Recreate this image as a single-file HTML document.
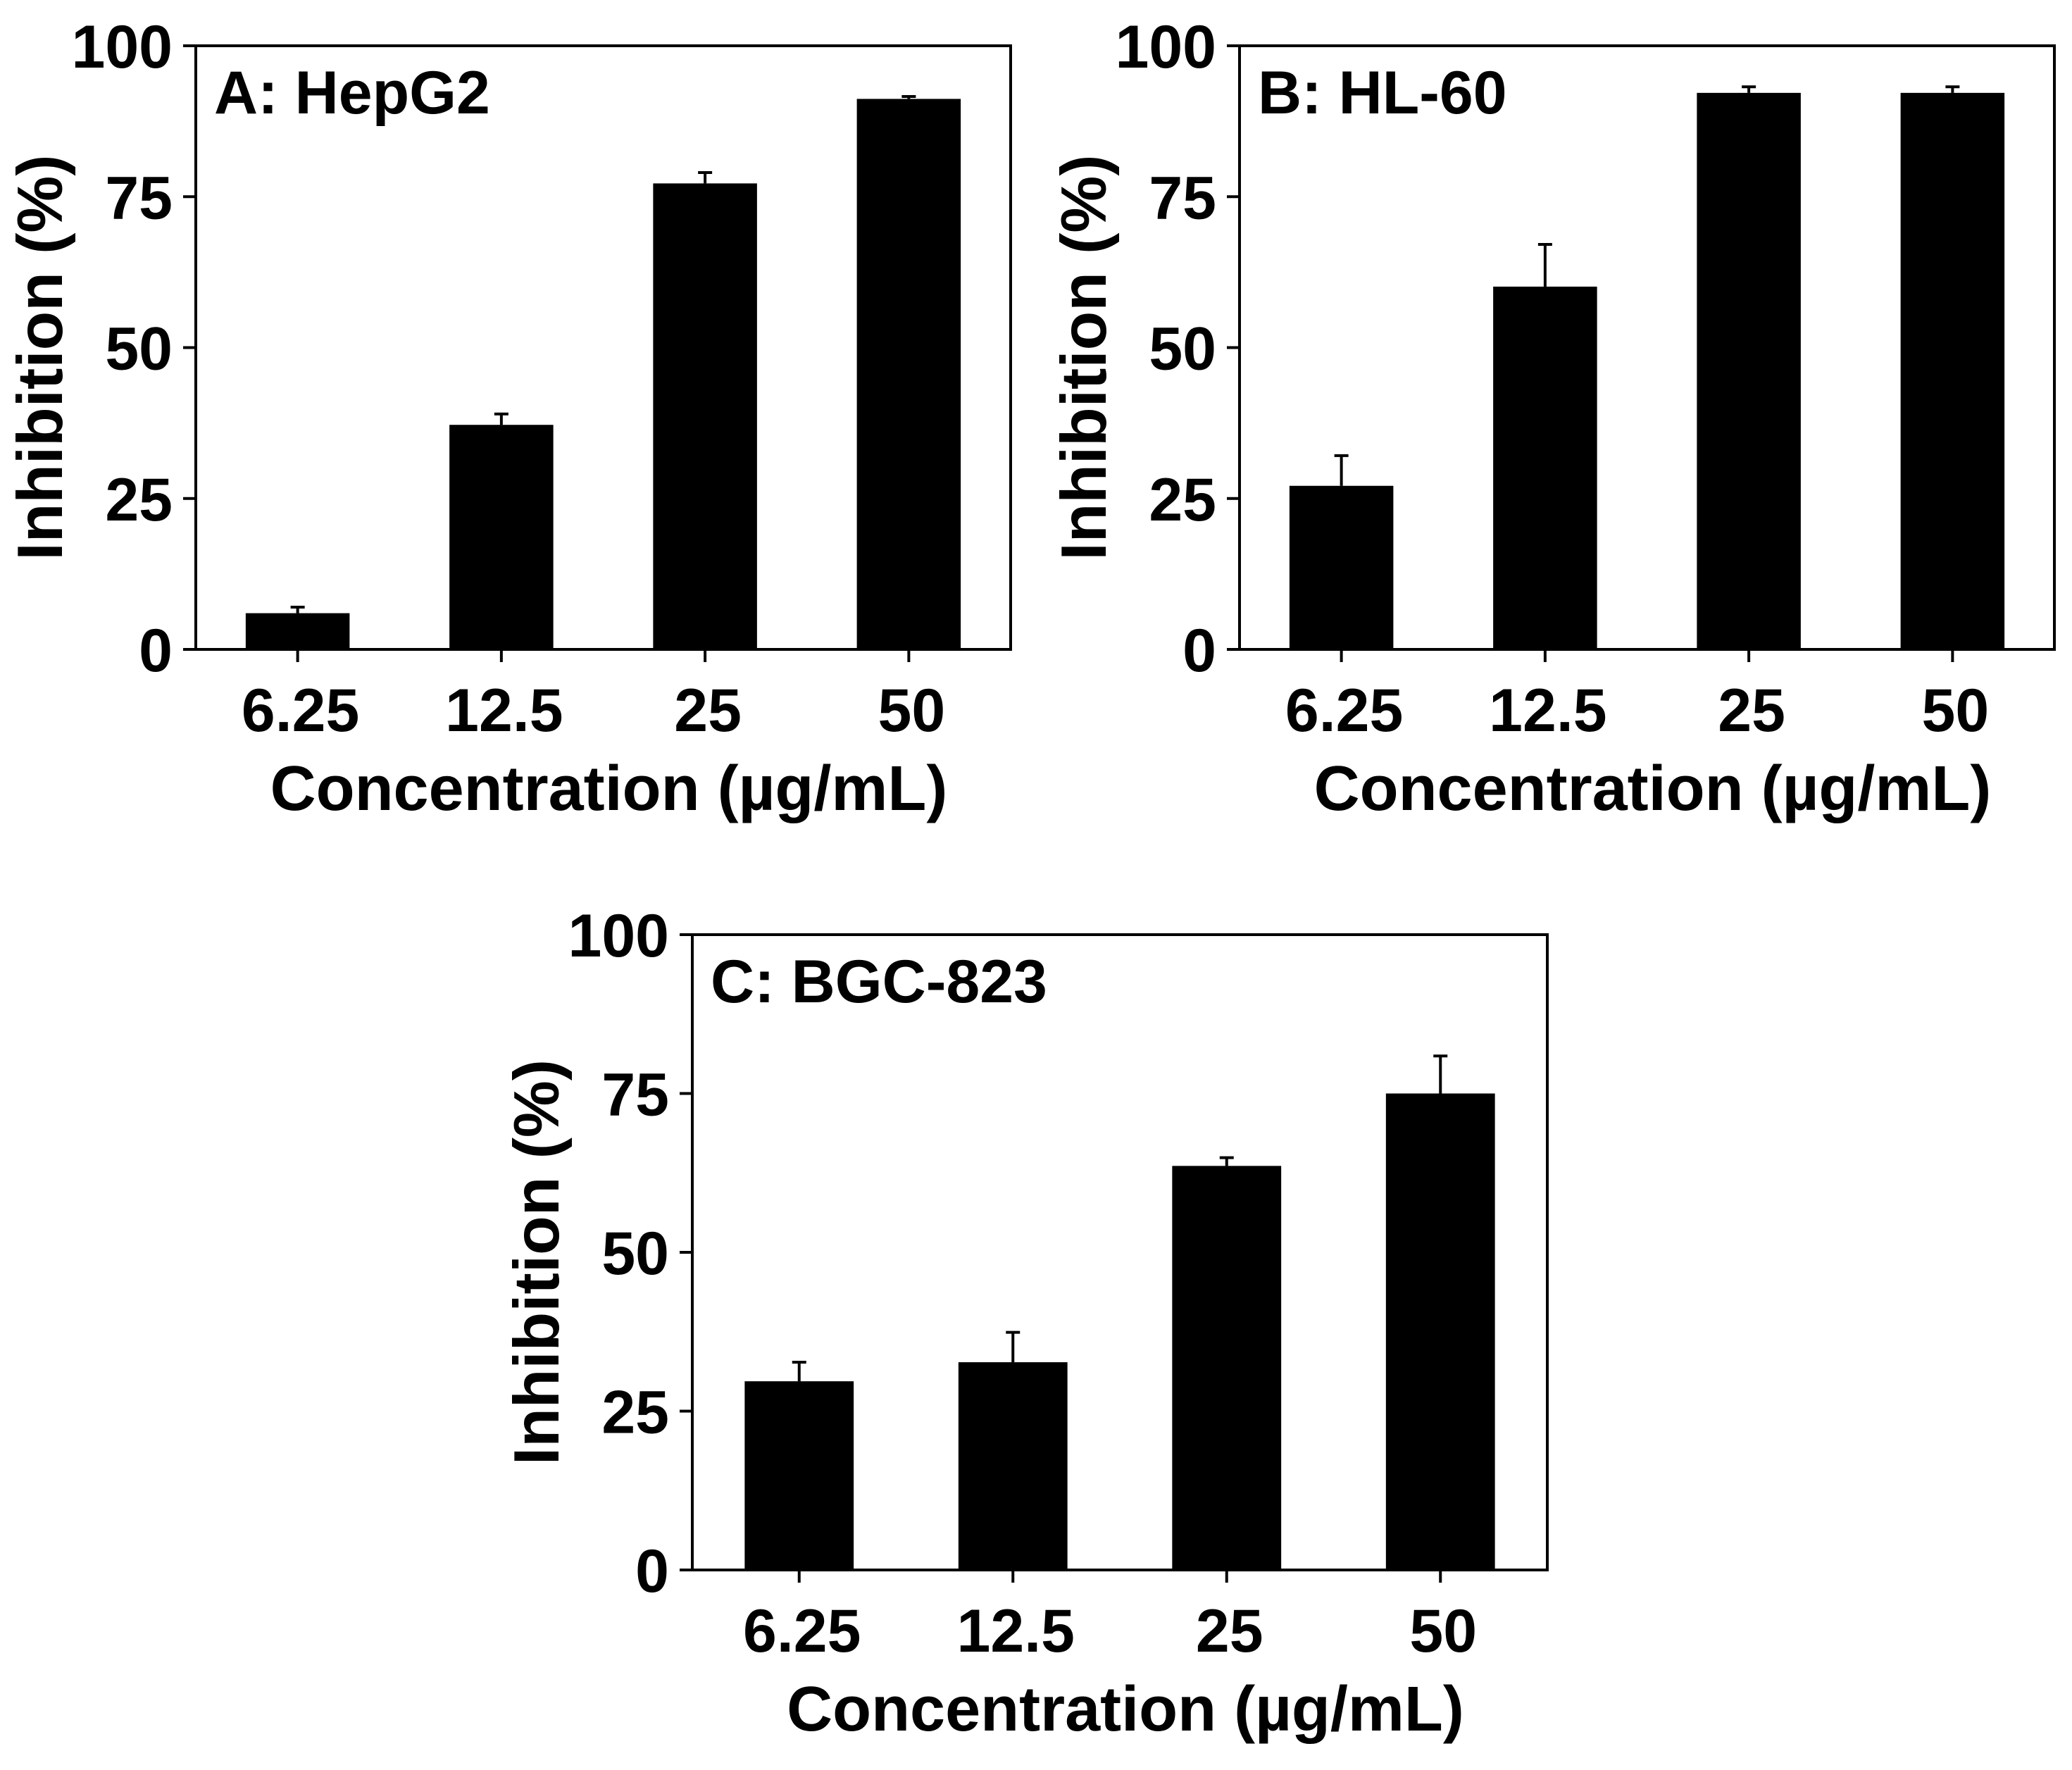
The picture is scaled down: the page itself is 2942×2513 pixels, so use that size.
<!DOCTYPE html>
<html><head><meta charset="utf-8"><style>
html,body{margin:0;padding:0;background:#fff}
svg{display:block}
text{font-family:"Liberation Sans",Arial,sans-serif;font-weight:bold;fill:#000}
</style></head><body>
<svg id="fig" width="2942" height="2513" viewBox="0 0 2942 2513" xmlns="http://www.w3.org/2000/svg"></svg>
<script>
const categories = ["6.25", "12.5", "25", "50"];
const yTicks = [0, 25, 50, 75, 100];
const titles = ["A: HepG2", "B: HL-60", "C: BGC-823"];
const valuesA = [6, 37.2, 77.2, 91.2];
const errorsA = [1, 1.8, 1.8, 0.4];
const valuesB = [27.1, 60.1, 92.2, 92.2];
const errorsB = [5, 7, 1, 1];
const valuesC = [29.7, 32.7, 63.6, 75.0];
const errorsC = [3, 4.7, 1.3, 5.9];

const NS = "http://www.w3.org/2000/svg";
const svg = document.getElementById("fig");
function mk(tag, attrs, parent) {
  const e = document.createElementNS(NS, tag);
  for (const k in attrs) e.setAttribute(k, attrs[k]);
  (parent || svg).appendChild(e);
  return e;
}
const panels = [
  {L: 278, R: 1435, T: 65, B: 922, vals: valuesA, errs: errorsA, title: titles[0], key: "a"},
  {L: 1760, R: 2917, T: 65, B: 922, vals: valuesB, errs: errorsB, title: titles[1], key: "b"},
  {L: 983, R: 2197, T: 1327, B: 2229, vals: valuesC, errs: errorsC, title: titles[2], key: "c"}
];
panels.forEach(p => {
  const g = mk("g", {});
  
  
  const yScale = v => p.B - (v / 100) * (p.B - p.T);
  const slot = (p.R - p.L) / categories.length;
  const xScale = i => p.L + slot * (i + 0.5);
  const bw = slot * 0.51;
  p.vals.forEach((v, i) => {
    const r = mk("rect", {x: xScale(i) - bw / 2, y: yScale(v), width: bw, height: p.B - yScale(v), fill: "#000"}, g);
    
    
    const top = yScale(v + p.errs[i]);
    const eb = mk("path", {d: `M${xScale(i)},${yScale(v)}V${top}M${xScale(i) - 10},${top}H${xScale(i) + 10}`, stroke: "#000", "stroke-width": 4, fill: "none"}, g);
    
    
  });
  const fr = mk("rect", {x: p.L, y: p.T, width: p.R - p.L, height: p.B - p.T, fill: "none", stroke: "#000", "stroke-width": 4}, g);
  
  
  yTicks.forEach(t => {
    const y = yScale(t);
    const tk = mk("line", {x1: p.L - 18, x2: p.L, y1: y, y2: y, stroke: "#000", "stroke-width": 4}, g);
    
    
    const tl = mk("text", {x: p.L - 33, y: y + 31, "text-anchor": "end", "font-size": 86}, g);
    tl.textContent = t;
    
    
  });
  categories.forEach((c, i) => {
    const x = xScale(i);
    const tk = mk("line", {x1: x, x2: x, y1: p.B, y2: p.B + 18, stroke: "#000", "stroke-width": 4}, g);
    
    
    const tl = mk("text", {x: x + 4, y: p.B + 116, "text-anchor": "middle", "font-size": 86}, g);
    tl.textContent = c;
    
    
  });
  const xt = mk("text", {x: (p.L + p.R) / 2 + 8, y: p.B + 228, "text-anchor": "middle", "font-size": 90}, g);
  xt.textContent = "Concentration (\u00b5g/mL)";
  
  
  const cy = (p.T + p.B) / 2 + 14;
  const yt = mk("text", {x: 0, y: 0, "text-anchor": "middle", "font-size": 91, transform: `translate(${p.L - 190},${cy}) rotate(-90)`}, g);
  yt.textContent = "Inhibition (%)";
  
  
  const pt = mk("text", {x: p.L + 26, y: p.T + 96, "font-size": 86}, g);
  pt.textContent = p.title;
  
  
});
</script>
</body></html>
